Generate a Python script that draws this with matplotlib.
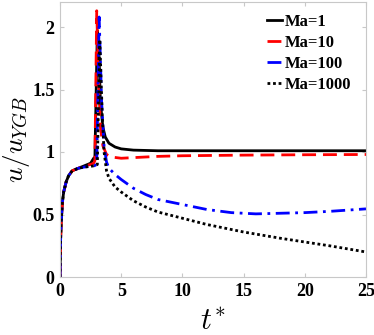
import matplotlib
matplotlib.use("Agg")
import matplotlib.pyplot as plt

t_rise = [0, 0.05, 0.1, 0.2, 0.3, 0.5, 0.7, 1.0, 1.5, 2.0, 2.5]
y_rise = [0, 0.30, 0.45, 0.60, 0.68, 0.76, 0.81, 0.85, 0.87, 0.89, 0.91]

t1 = t_rise + [2.75, 2.85, 3.05, 3.15, 3.3, 3.5, 3.7, 4.0, 4.5, 5, 6, 8, 10, 15, 20, 25]
y1 = y_rise + [0.95, 0.95, 1.97, 1.9, 1.4, 1.2, 1.12, 1.07, 1.04, 1.025, 1.015, 1.01, 1.01, 1.01, 1.01, 1.01]

t10 = t_rise + [2.75, 2.85, 3.0, 3.15, 3.3, 3.5, 3.8, 4.2, 5, 6, 8, 10, 15, 20, 25]
y10 = y_rise[:-1] + [0.90] + [0.91, 0.93, 2.13, 1.6, 1.2, 1.05, 0.98, 0.96, 0.95, 0.955, 0.965, 0.97, 0.975, 0.978, 0.98]

t100 = t_rise + [2.8, 3.0, 3.2, 3.4, 3.6, 3.8, 4.0, 4.5, 5, 6, 7, 8, 10, 12, 14, 16, 18, 20, 22, 25]
y100 = y_rise[:-2] + [0.88, 0.885] + [0.89, 0.90, 2.08, 1.4, 1.05, 0.92, 0.87, 0.82, 0.78, 0.71, 0.66, 0.62, 0.58, 0.54, 0.515, 0.505, 0.51, 0.515, 0.525, 0.545]

t1000 = t_rise + [2.8, 3.05, 3.25, 3.45, 3.6, 3.8, 4.0, 4.5, 5, 6, 7, 8, 10, 12, 15, 18, 20, 22, 25]
y1000 = y_rise[:-2] + [0.88, 0.885] + [0.89, 0.90, 1.9, 1.3, 1.0, 0.85, 0.79, 0.72, 0.68, 0.61, 0.56, 0.52, 0.47, 0.42, 0.36, 0.31, 0.28, 0.25, 0.2]

labels = ["Ma=1", "Ma=10", "Ma=100", "Ma=1000"]
xticks = [0, 5, 10, 15, 20, 25]
yticks = [0, 0.5, 1, 1.5, 2]
ytick_labels = ["0", "0.5", "1", "1.5", "2"]

plt.rcParams['font.family'] = ['Liberation Serif', 'DejaVu Serif']
plt.rcParams['mathtext.fontset'] = 'cm'

fig = plt.figure(figsize=(3.74, 3.35), dpi=100)
ax = fig.add_axes([60/374, 1 - 277/335, 306/374, 275/335])

ax.plot(t1, y1, color='black', lw=2, ls='-', label=labels[0])
ax.plot(t10, y10, color='red', lw=2, ls=(0, (5, 2.5)), label=labels[1])
ax.plot(t100, y100, color='blue', lw=2, ls=(0, (5, 2, 1, 2)), label=labels[2])
ax.plot(t1000, y1000, color='black', lw=2, ls=(0, (1, 1)), label=labels[3])

ax.set_xlim(0, 25)
ax.set_ylim(0, 2.2)
ax.set_xticks(xticks)
ax.set_yticks(yticks)
ax.set_yticklabels(ytick_labels)
for lab in ax.get_xticklabels() + ax.get_yticklabels():
    lab.set_fontweight('bold')
    lab.set_fontsize(13)
ax.tick_params(direction='in', top=True, right=True, length=3, color='#c8c8c8', pad=4)
for sp in ax.spines.values():
    sp.set_color('#c8c8c8')
    sp.set_linewidth(0.8)

ax.set_xlabel(r'$t^{*}$', fontsize=22)
ax.xaxis.set_label_coords(0.5, -0.11)
ax.set_ylabel(r'$u/u_{YGB}$', fontsize=19.5)
ax.yaxis.set_label_coords(-0.093, 0.5)

leg = ax.legend(loc='upper right', frameon=False, handlelength=0.9, handletextpad=0.15,
                labelspacing=0.3, prop={'weight': 'bold', 'size': 12},
                bbox_to_anchor=(0.99, 1.0), borderaxespad=0.3)

fig.savefig('out.png', dpi=100)
